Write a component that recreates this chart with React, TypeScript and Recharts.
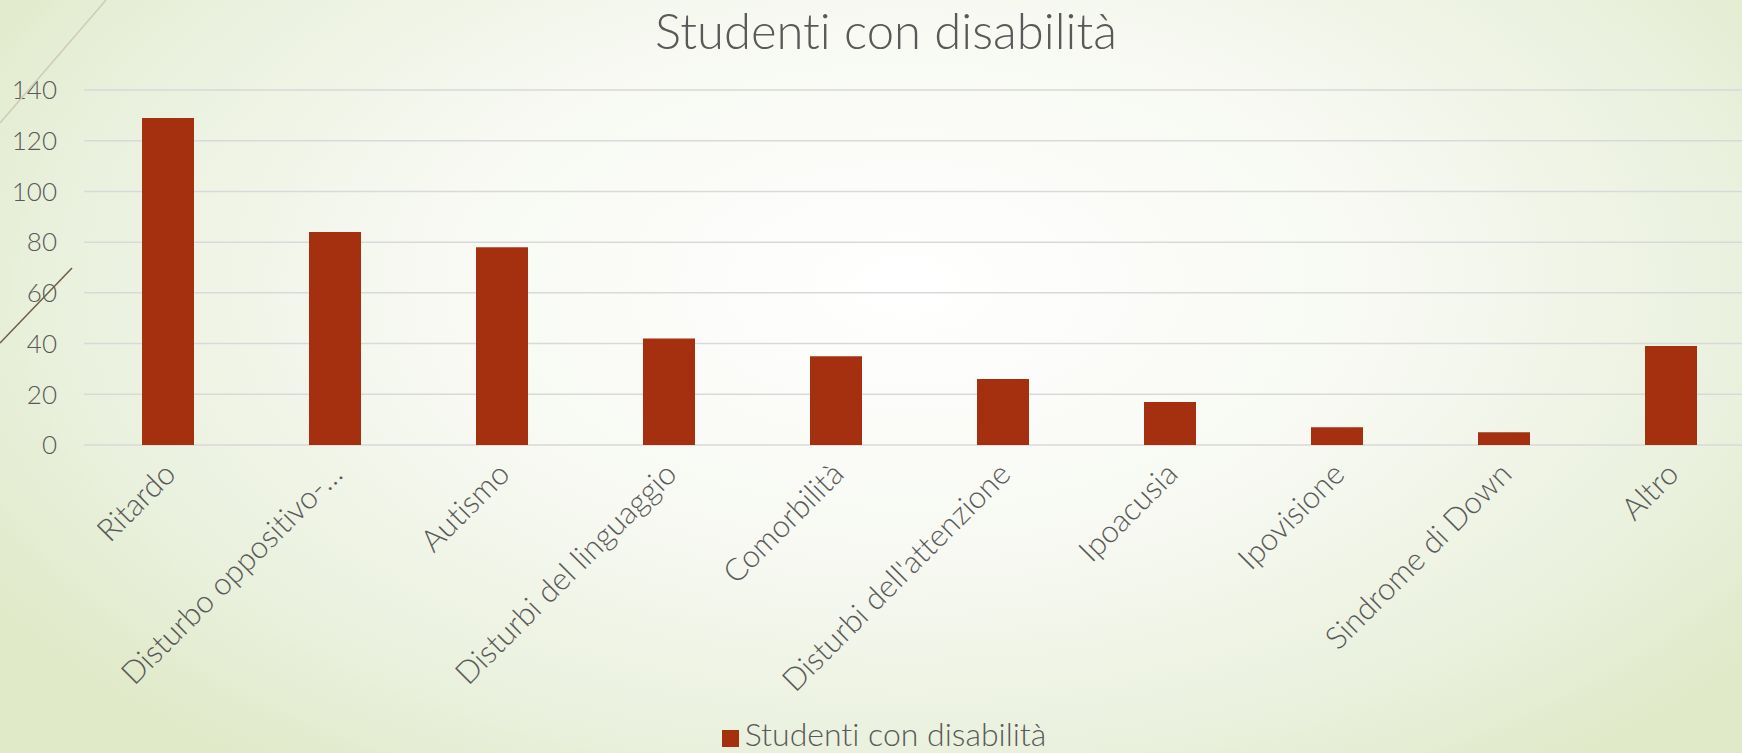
import React from 'react'
import { BarChart, Bar, XAxis, YAxis, CartesianGrid, Legend } from 'recharts'

const categorie = [
  'Ritardo',
  'Disturbo oppositivo-…',
  'Autismo',
  'Disturbi del linguaggio',
  'Comorbilità',
  "Disturbi dell'attenzione",
  'Ipoacusia',
  'Ipovisione',
  'Sindrome di Down',
  'Altro',
]
const studenti = [129, 84, 78, 42, 35, 26, 17, 7, 5, 39]
const yTicks = [0, 20, 40, 60, 80, 100, 120, 140]
const titolo = 'Studenti con disabilità'

const FONT = "'Century Gothic', Lato, sans-serif"
const GRIGIO = '#595959'
const ROSSO = '#a5300f'
const noLig = { fontVariantLigatures: 'none' as const }

const data = categorie.map((c, i) => ({ categoria: c, valore: studenti[i] }))

function TickRuotato({ x, y, payload }: any) {
  return (
    <g transform={`translate(${x},${y})`}>
      <text
        x={0}
        y={0}
        transform="translate(10,23) rotate(-45)"
        textAnchor="end"
        fill={GRIGIO}
        fontSize={31}
        fontWeight={300}
        fontFamily={FONT}
        style={noLig}
      >
        {payload.value}
      </text>
    </g>
  )
}

export default function App() {
  return (
    <div
      style={{
        position: 'absolute',
        left: 0,
        top: 0,
        width: 1742,
        height: 753,
        overflow: 'hidden',
        background:
          'radial-gradient(ellipse 62% 80% at 52% 38%, #ffffff 0%, #f7f9f2 45%, #e9f0dc 80%, #e0e9c8 100%)',
      }}
    >
      <BarChart
        width={1742}
        height={753}
        data={data}
        margin={{ top: 90, right: -12, left: 0, bottom: 0 }}
      >
        <CartesianGrid vertical={false} stroke="#d9d9d9" strokeWidth={1.5} />
        <XAxis
          dataKey="categoria"
          height={260}
          interval={0}
          axisLine={false}
          tickLine={false}
          tick={<TickRuotato />}
        />
        <YAxis
          width={84}
          domain={[0, 140]}
          ticks={yTicks}
          axisLine={false}
          tickLine={false}
          tickMargin={21}
          tick={{ fontSize: 26, fill: GRIGIO, fontFamily: FONT, fontWeight: 300 }}
        />
        <Legend
          verticalAlign="bottom"
          align="center"
          iconType="square"
          iconSize={17}
          wrapperStyle={{
            paddingTop: 9,
            paddingLeft: 12,
            fontFamily: FONT,
            fontSize: 32,
            fontWeight: 300,
            fontVariantLigatures: 'none',
          }}
          formatter={(v: string) => <span style={{ color: GRIGIO, marginLeft: 2 }}>{v}</span>}
        />
        <Bar dataKey="valore" name={titolo} fill={ROSSO} barSize={52} isAnimationActive={false} />
      </BarChart>
      <svg
        width={1742}
        height={753}
        style={{ position: 'absolute', left: 0, top: 0, pointerEvents: 'none' }}
      >
        <line x1={106} y1={0} x2={0} y2={123} stroke="#cfcdb0" strokeWidth={1.5} />
        <line x1={72} y1={268} x2={0} y2={343} stroke="#6b5d3f" strokeWidth={1.5} />
        <text
          x={886}
          y={49}
          textAnchor="middle"
          fontSize={49}
          fontWeight={300}
          fill={GRIGIO}
          fontFamily={FONT}
          style={noLig}
        >
          {titolo}
        </text>
      </svg>
    </div>
  )
}
